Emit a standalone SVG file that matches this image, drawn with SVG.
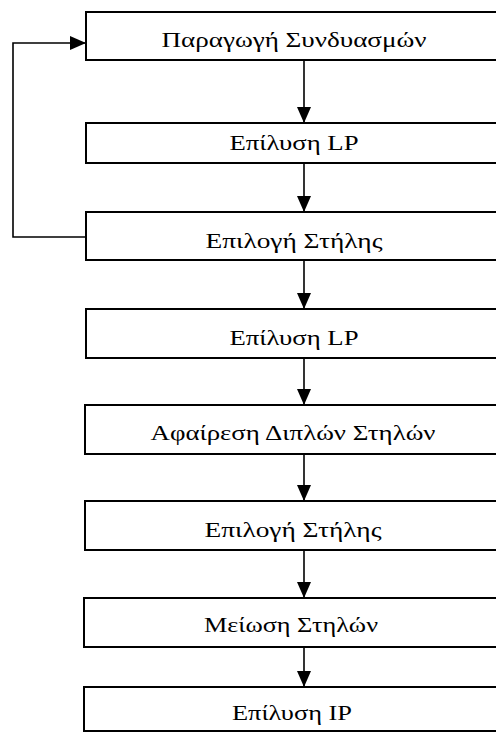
<svg xmlns="http://www.w3.org/2000/svg" width="496" height="732" viewBox="0 0 496 732">
<style>
.box{fill:#fff;stroke:#000;stroke-width:2}
.lbl{font-family:"Liberation Serif","Times New Roman",serif;font-size:22px;fill:#000;text-anchor:middle}
.con{fill:none;stroke:#000;stroke-width:1.6}
</style>
<defs>
<marker id="ah" markerWidth="16" markerHeight="14" refX="16" refY="7" orient="auto" markerUnits="userSpaceOnUse">
<path d="M0,0 L16,7 L0,14 Z" fill="#000"/>
</marker>
</defs>
<rect width="496" height="732" fill="#fff"/>
<g id="connectors">
<line class="con" x1="304" y1="60" x2="304" y2="123" marker-end="url(#ah)"/>
<line class="con" x1="304" y1="163" x2="304" y2="212" marker-end="url(#ah)"/>
<line class="con" x1="304" y1="260" x2="304" y2="309" marker-end="url(#ah)"/>
<line class="con" x1="304" y1="358" x2="304" y2="405" marker-end="url(#ah)"/>
<line class="con" x1="304" y1="454" x2="304" y2="501" marker-end="url(#ah)"/>
<line class="con" x1="304" y1="550" x2="304" y2="598" marker-end="url(#ah)"/>
<line class="con" x1="304" y1="647" x2="304" y2="687" marker-end="url(#ah)"/>
<polyline class="con" points="86,237 13,237 13,43 86,43" marker-end="url(#ah)"/>
</g>
<g id="n1"><rect class="box" x="86" y="12" width="420" height="48"/><text class="lbl" x="294" y="47" textLength="265" lengthAdjust="spacingAndGlyphs">Παραγωγή Συνδυασμών</text></g>
<g id="n2"><rect class="box" x="86" y="123" width="420" height="40"/><text class="lbl" x="294" y="150" textLength="129" lengthAdjust="spacingAndGlyphs">Επίλυση LP</text></g>
<g id="n3"><rect class="box" x="86" y="212" width="420" height="48"/><text class="lbl" x="294" y="248" textLength="177" lengthAdjust="spacingAndGlyphs">Επιλογή Στήλης</text></g>
<g id="n4"><rect class="box" x="86" y="309" width="420" height="49"/><text class="lbl" x="294" y="345" textLength="129" lengthAdjust="spacingAndGlyphs">Επίλυση LP</text></g>
<g id="n5"><rect class="box" x="85" y="405" width="420" height="49"/><text class="lbl" x="293" y="440" textLength="285" lengthAdjust="spacingAndGlyphs">Αφαίρεση Διπλών Στηλών</text></g>
<g id="n6"><rect class="box" x="85" y="501" width="420" height="49"/><text class="lbl" x="293" y="537" textLength="177" lengthAdjust="spacingAndGlyphs">Επιλογή Στήλης</text></g>
<g id="n7"><rect class="box" x="84" y="598" width="420" height="49"/><text class="lbl" x="291" y="632" textLength="174" lengthAdjust="spacingAndGlyphs">Μείωση Στηλών</text></g>
<g id="n8"><rect class="box" x="84" y="687" width="420" height="44"/><text class="lbl" x="292" y="720" textLength="120" lengthAdjust="spacingAndGlyphs">Επίλυση IP</text></g>
</svg>
